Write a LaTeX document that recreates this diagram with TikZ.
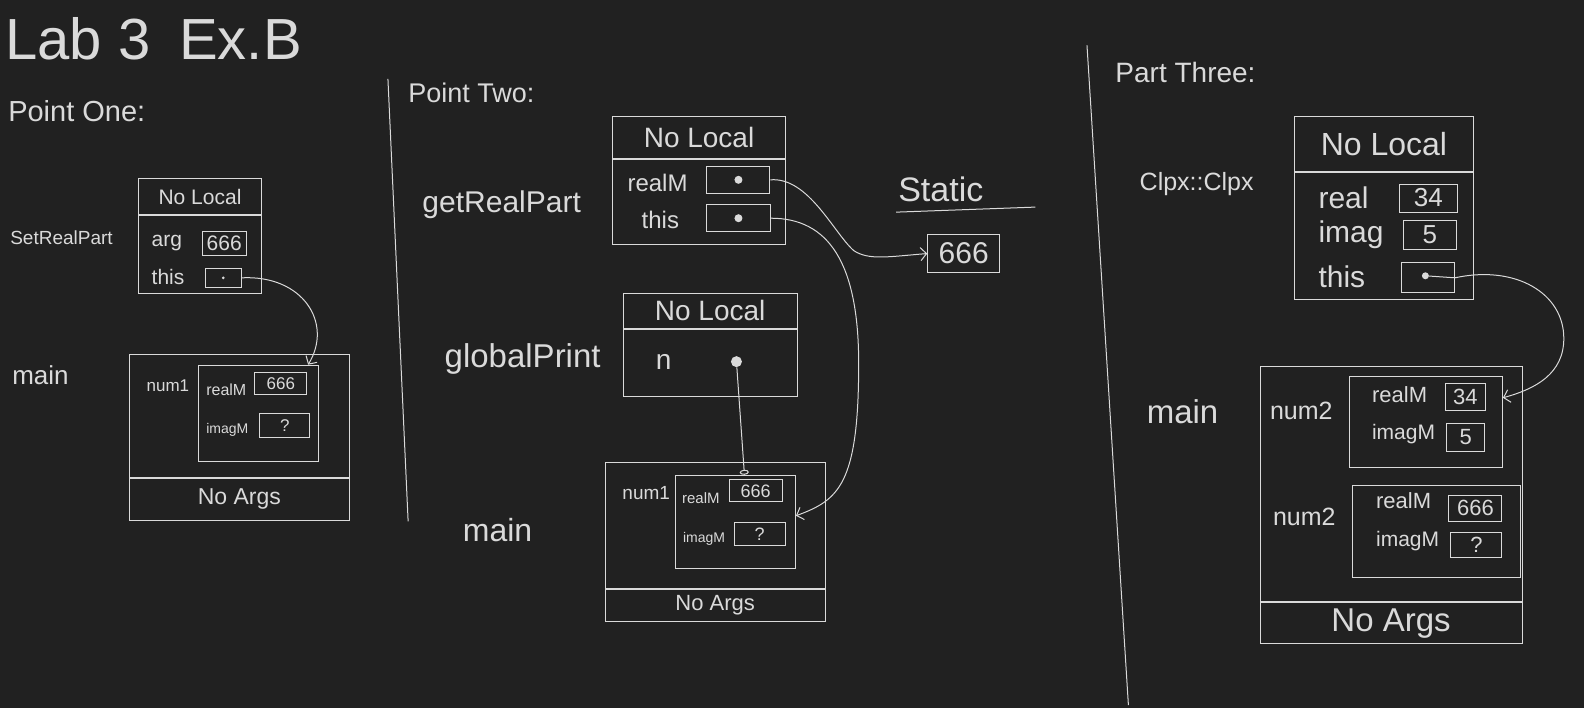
\documentclass[tikz,border=0pt]{standalone}
\usepackage{fontspec}
\setmainfont{Liberation Sans}
\usetikzlibrary{positioning,arrows.meta}

\definecolor{board}{HTML}{212121}
\definecolor{chalkcol}{HTML}{DADADA}
\newcommand\chalksize[1]{\fontsize{#1}{#1}\selectfont}

\tikzset{
  chalk/.style={draw=chalkcol, line width=1pt},
  frame/.style={chalk, rectangle, inner sep=0pt, text=chalkcol},
  cell/.style={chalk, rectangle, inner sep=0pt, text=chalkcol},
  lbl/.style={text=chalkcol, inner sep=0pt},
  dot/.style={circle, fill=chalkcol, inner sep=0pt, minimum size=4pt},
  ptr/.style={chalk, -{Straight Barb[length=6pt,width=13pt]}},
}

\begin{document}
\begin{tikzpicture}[x=1.0102pt, y=-1.0102pt]
  \fill[board] (0,0) rectangle (1568,701);
  \useasboundingbox (0,0) rectangle (1568,701);

  \node[lbl, font=\chalksize{58}, anchor=west] (title) at (5,38) {Lab 3\hspace{.5em}Ex.B};

  % point one
  \node[lbl, font=\chalksize{29}, anchor=west] (p1title) at (8,110) {Point One:};
  \node[lbl, font=\chalksize{19}, anchor=west] (p1fn) at (10,235) {SetRealPart};
  \node[frame, minimum width=123pt, minimum height=36pt, font=\chalksize{21}] (p1head) at (198,195) {No Local};
  \node[frame, minimum width=123pt, minimum height=78pt, below=0pt of p1head] (p1loc) {};
  \node[lbl, font=\chalksize{21}, anchor=west] at (150,241) {arg};
  \node[cell, minimum width=44pt, minimum height=24pt, font=\chalksize{21}] (p1arg) at (222,241) {666};
  \node[lbl, font=\chalksize{21}, anchor=west] at (150,274) {this};
  \node[cell, minimum width=36pt, minimum height=19pt] (p1this) at (221,275) {};
  \node[dot, minimum size=3pt] (p1thisdot) at (p1this) {};

  \node[lbl, font=\chalksize{26}, anchor=west] (p1main) at (12,371) {main};
  \node[frame, minimum width=220pt, minimum height=123pt] (p1stack) at (237,411.5) {};
  \node[frame, minimum width=220pt, minimum height=42pt, below=0pt of p1stack, font=\chalksize{23}] (p1args) {No Args};
  \node[lbl, font=\chalksize{17}, anchor=west] at (145,382) {num1};
  \node[frame, minimum width=120pt, minimum height=96pt] (p1obj) at (256,409) {};
  \node[lbl, font=\chalksize{16}, anchor=west] at (204,386) {realM};
  \node[cell, minimum width=52pt, minimum height=22pt, font=\chalksize{17}] (p1real) at (278,380) {666};
  \node[lbl, font=\chalksize{14}, anchor=west] at (204,426) {imagM};
  \node[cell, minimum width=50pt, minimum height=24pt, font=\chalksize{17}] (p1imag) at (282,421) {?};

  \draw[ptr] (p1this.east) .. controls (300,272) and (330,320) .. ([xshift=-11pt]p1obj.north east);

  \draw[chalk] (384,78) -- (404,516);

  % point two
  \node[lbl, font=\chalksize{27}, anchor=west] (p2title) at (404,92) {Point Two:};
  \node[lbl, font=\chalksize{30}, anchor=west] (p2fn) at (418,203) {getRealPart};
  \node[frame, minimum width=173pt, minimum height=42pt, font=\chalksize{28}] (p2head) at (692,136) {No Local};
  \node[frame, minimum width=173pt, minimum height=85pt, below=0pt of p2head] (p2loc) {};
  \node[lbl, font=\chalksize{24}, anchor=west] at (621,181) {realM};
  \node[cell, minimum width=63pt, minimum height=27pt] (p2real) at (731,178) {};
  \node[dot, minimum size=8pt] (p2realdot) at (p2real) {};
  \node[lbl, font=\chalksize{24}, anchor=west] at (635,218) {this};
  \node[cell, minimum width=64pt, minimum height=27pt] (p2this) at (731,216) {};
  \node[dot, minimum size=8pt] (p2thisdot) at (p2this) {};

  \node[lbl, font=\chalksize{34}, anchor=south west] (static) at (889,200) {Static};
  \draw[chalk] (887,210) -- (1025,205);
  \node[cell, minimum width=72pt, minimum height=38pt, font=\chalksize{30}] (p2static) at (954,251) {666};

  \node[lbl, font=\chalksize{33}, anchor=west] (p2gfn) at (440,355) {globalPrint};
  \node[frame, minimum width=174pt, minimum height=35pt, font=\chalksize{28}] (p2ghead) at (703,307.5) {No Local};
  \node[frame, minimum width=174pt, minimum height=67pt, below=0pt of p2ghead] (p2gloc) {};
  \node[lbl, font=\chalksize{28}] at (657,358) {n};
  \node[dot, minimum size=11pt] (p2ndot) at (729,358) {};

  \node[lbl, font=\chalksize{32}, anchor=west] (p2main) at (458,525) {main};
  \node[frame, minimum width=220pt, minimum height=126pt] (p2stack) at (708,520) {};
  \node[frame, minimum width=220pt, minimum height=32pt, below=0pt of p2stack, font=\chalksize{22}] (p2args) {No Args};
  \node[lbl, font=\chalksize{19}, anchor=west] at (616,488) {num1};
  \node[frame, minimum width=120pt, minimum height=93pt] (p2obj) at (728,516.5) {};
  \node[lbl, font=\chalksize{15}, anchor=west] at (675,493) {realM};
  \node[cell, minimum width=53pt, minimum height=22pt, font=\chalksize{18}] (p2objreal) at (748,486) {666};
  \node[lbl, font=\chalksize{14}, anchor=west] at (676,533) {imagM};
  \node[cell, minimum width=51pt, minimum height=23pt, font=\chalksize{18}] (p2objimag) at (752,529) {?};

  \draw[ptr] (p2real.east) .. controls (800,175) and (825,230) .. (845,248)
    .. controls (860,258) and (880,254) .. (p2static.west);
  \draw[ptr] (p2this.east) .. controls (820,216) and (850,260) .. (850,360)
    .. controls (850,480) and (830,495) .. ([yshift=6pt]p2obj.east);
  \draw[chalk, -{Circle[open,length=5pt,width=9pt]}] (p2ndot) -- ([xshift=9pt]p2obj.north);

  \draw[chalk] (1076,45) -- (1117,698);

  % part three
  \node[lbl, font=\chalksize{28}, anchor=west] (p3title) at (1104,72) {Part Three:};
  \node[lbl, font=\chalksize{25}, anchor=west] (p3fn) at (1128,182) {Clpx::Clpx};
  \node[frame, minimum width=179pt, minimum height=55pt, font=\chalksize{32}] (p3head) at (1370,142.5) {No Local};
  \node[frame, minimum width=179pt, minimum height=127pt, below=0pt of p3head] (p3loc) {};
  \node[lbl, font=\chalksize{30}, anchor=west] at (1305,196) {real};
  \node[cell, minimum width=58pt, minimum height=28pt, font=\chalksize{26}] (p3real) at (1414,196) {34};
  \node[lbl, font=\chalksize{30}, anchor=west] at (1305,232) {imag};
  \node[cell, minimum width=53pt, minimum height=29pt, font=\chalksize{26}] (p3imag) at (1415.5,232.5) {5};
  \node[lbl, font=\chalksize{30}, anchor=west] at (1305,274) {this};
  \node[cell, minimum width=53pt, minimum height=30pt] (p3this) at (1413.5,275) {};
  \node[dot, minimum size=7pt] (p3thisdot) at (1411,273) {};

  \node[lbl, font=\chalksize{33}, anchor=west] (p3main) at (1135,408) {main};
  \node[frame, minimum width=262pt, minimum height=235pt] (p3stack) at (1377,479.5) {};
  \node[frame, minimum width=262pt, minimum height=41pt, below=0pt of p3stack, font=\chalksize{33}] (p3args) {No Args};

  \node[lbl, font=\chalksize{25}, anchor=west] at (1257,407) {num2};
  \node[frame, minimum width=153pt, minimum height=91pt] (p3obja) at (1411.5,417.5) {};
  \node[lbl, font=\chalksize{22}, anchor=west] at (1358,391) {realM};
  \node[cell, minimum width=40pt, minimum height=27pt, font=\chalksize{22}] (p3areal) at (1450.5,392.5) {34};
  \node[lbl, font=\chalksize{21}, anchor=west] at (1358,430) {imagM};
  \node[cell, minimum width=38pt, minimum height=28pt, font=\chalksize{22}] (p3aimag) at (1451,433) {5};

  \node[lbl, font=\chalksize{25}, anchor=west] at (1260,512) {num2};
  \node[frame, minimum width=168pt, minimum height=92pt] (p3objb) at (1422,526) {};
  \node[lbl, font=\chalksize{22}, anchor=west] at (1362,496) {realM};
  \node[cell, minimum width=53pt, minimum height=26pt, font=\chalksize{22}] (p3breal) at (1460.5,503) {666};
  \node[lbl, font=\chalksize{21}, anchor=west] at (1362,536) {imagM};
  \node[cell, minimum width=51pt, minimum height=25pt, font=\chalksize{22}] (p3bimag) at (1461.5,539.5) {?};

  \draw[ptr] (p3thisdot) -- (p3this.east) .. controls (1500,262) and (1548,290) .. (1548,335)
    .. controls (1548,370) and (1520,385) .. ([yshift=-22pt]p3obja.north east);
\end{tikzpicture}
\end{document}
